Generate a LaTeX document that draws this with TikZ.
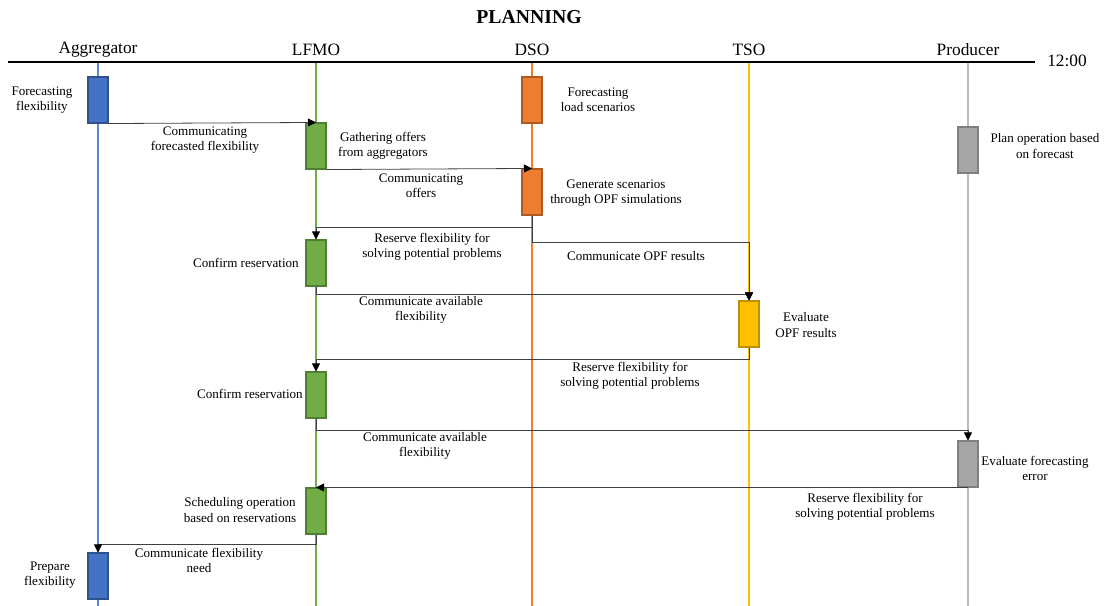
\documentclass[tikz,border=0pt]{standalone}
\usepackage{fontspec}
\setmainfont{Liberation Serif}
\usetikzlibrary{arrows.meta}

\definecolor{aggfill}{HTML}{4472C4}
\definecolor{aggline}{HTML}{2F528F}
\definecolor{lfmofill}{HTML}{70AD47}
\definecolor{lfmoline}{HTML}{507E32}
\definecolor{dsofill}{HTML}{ED7D31}
\definecolor{dsoline}{HTML}{AE5A21}
\definecolor{tsofill}{HTML}{FFC000}
\definecolor{tsoline}{HTML}{BF9000}
\definecolor{prodfill}{HTML}{A5A5A5}
\definecolor{prodline}{HTML}{7F7F7F}

\begin{document}
\begin{tikzpicture}[x=0.75pt, y=-0.75pt,
	act/.style={draw, line width=0.8pt, minimum width=15pt, minimum height=34.5pt, inner sep=0pt},
	msg/.style={draw=black!75, line width=0.6pt, -{Triangle[length=6pt, width=6pt, black]}},
	txt/.style={align=center, inner sep=0pt, font=\fontsize{9.8}{11.3}\selectfont},
	head/.style={inner sep=0pt, font=\fontsize{13}{15}\selectfont}]

\def\xagg{98}
\def\xlfmo{316}
\def\xdso{532}
\def\xtso{749}
\def\xprod{968}

\path [use as bounding box] (0,0) rectangle (1108,606);

% HEADER
\node [inner sep=0pt, font=\fontsize{14.8}{17}\selectfont\bfseries] (title) at (529,17) {PLANNING};
\draw [line width=1pt] (8,62) -- (1035,62);
\node [head] (time) at (1067,61) {12:00};
\node [head] (agg) at (\xagg,50) {Aggregator};
\node [head] (lfmo) at (\xlfmo,50) {LFMO};
\node [head] (dso) at (\xdso,50) {DSO};
\node [head] (tso) at (\xtso,50) {TSO};
\node [head] (prod) at (\xprod,50) {Producer};

% LIFELINES
\draw [aggfill!85!white, line width=0.9pt] (\xagg,63) -- (\xagg,606);
\draw [lfmofill, line width=0.9pt] (\xlfmo,63) -- (\xlfmo,606);
\draw [dsofill, line width=0.9pt] (\xdso,63) -- (\xdso,606);
\draw [tsofill, line width=1.2pt] (\xtso,63) -- (\xtso,606);
\draw [prodfill!75!white, line width=1.2pt] (\xprod,63) -- (\xprod,606);

% BOXES
\node [act, fill=aggfill, draw=aggline] (agg1) at (\xagg,100) {};
\node [act, fill=lfmofill, draw=lfmoline] (lfmo1) at (\xlfmo,146) {};
\node [act, fill=dsofill, draw=dsoline] (dso1) at (\xdso,100) {};
\node [act, fill=dsofill, draw=dsoline] (dso2) at (\xdso,192) {};
\node [act, fill=prodfill, draw=prodline] (prod1) at (\xprod,150) {};
\node [act, fill=lfmofill, draw=lfmoline] (lfmo2) at (\xlfmo,263) {};
\node [act, fill=tsofill, draw=tsoline] (tso1) at (\xtso,324) {};
\node [act, fill=lfmofill, draw=lfmoline] (lfmo3) at (\xlfmo,395) {};
\node [act, fill=prodfill, draw=prodline] (prod2) at (\xprod,464) {};
\node [act, fill=lfmofill, draw=lfmoline] (lfmo4) at (\xlfmo,511) {};
\node [act, fill=aggfill, draw=aggline] (agg2) at (\xagg,576) {};

% ACTIVITIES
\node [txt] (t-agg1) at (42,100) {Forecasting\\flexibility};
\node [txt] (t-lfmo1) at (383,146) {Gathering offers\\from aggregators};
\node [txt] (t-dso1) at (598,100) {Forecasting\\load scenarios};
\node [txt] (t-dso2) at (616,193) {Generate scenarios\\through OPF simulations};
\node [txt] (t-prod1) at (1045,146) {Plan operation based\\on forecast};
\node [txt, anchor=east] (t-lfmo2) at (299,263) {Confirm reservation};
\node [txt] (t-tso1) at (806,325) {Evaluate\\OPF results};
\node [txt, anchor=east] (t-lfmo3) at (303,394) {Confirm reservation};
\node [txt] (t-prod2) at (1035,468) {Evaluate forecasting\\error};
\node [txt] (t-lfmo4) at (240,510) {Scheduling operation\\based on reservations};
\node [txt] (t-agg2) at (50,575) {Prepare\\flexibility};

% MESSAGES
\draw [msg] (agg1.south east) -- (lfmo1.north);
\node [txt] (m1) at (205,140) {Communicating\\forecasted flexibility};
\draw [msg] (lfmo1.south east) -- (dso2.north);
\node [txt] (m2) at (421,186) {Communicating\\offers};
\draw [msg] (dso2.south) -- ++(0,12) -| (lfmo2.north);
\node [txt] (m3) at (432,247) {Reserve flexibility for\\solving potential problems};
\draw [msg] (dso2.south) -- ++(0,27) -| (tso1.north);
\node [txt] (m4) at (636,256) {Communicate OPF results};
\draw [msg] (lfmo2.south) -- ++(0,8) -| (tso1.north);
\node [txt] (m5) at (421,310) {Communicate available\\flexibility};
\draw [msg] (tso1.south) -- ++(0,12) -| (lfmo3.north);
\node [txt] (m6) at (630,376) {Reserve flexibility for\\solving potential problems};
\draw [msg] (lfmo3.south) -- ++(0,12) -| (prod2.north);
\node [txt] (m7) at (425,446) {Communicate available\\flexibility};
\draw [msg] (prod2.south) -- (lfmo4.north);
\node [txt] (m8) at (865,507) {Reserve flexibility for\\solving potential problems};
\draw [msg] (lfmo4.south) -- ++(0,10) -| (agg2.north);
\node [txt] (m9) at (199,560) {Communicate flexibility\\need};

\end{tikzpicture}
\end{document}
